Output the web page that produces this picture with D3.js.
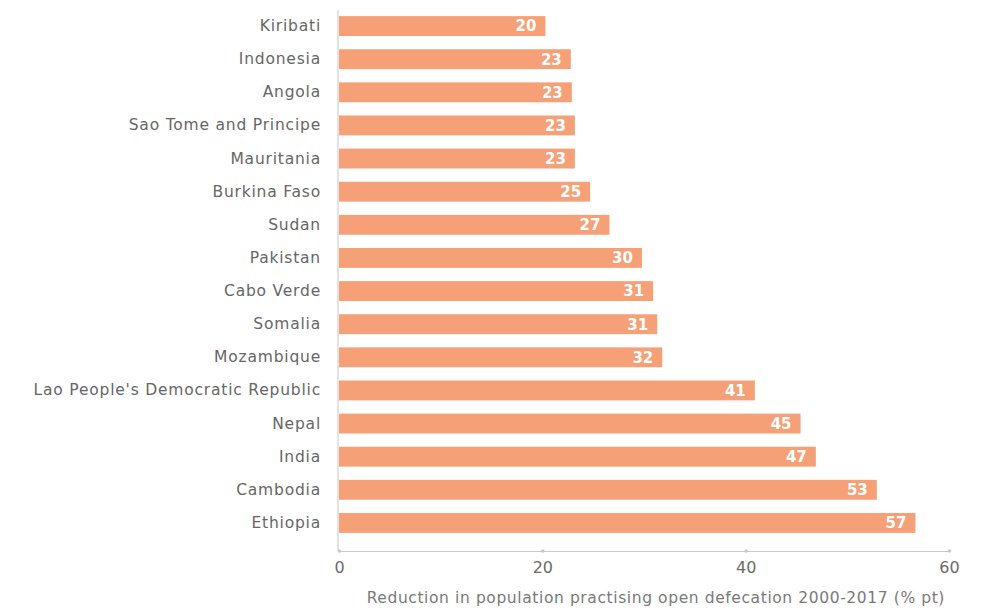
<!DOCTYPE html>
<html>
<head>
<meta charset="utf-8">
<script src="https://cdn.jsdelivr.net/npm/d3@7"></script>
<style>
  body { margin: 0; background: #fff; }
  text { font-family: "DejaVu Sans", sans-serif; }
</style>
</head>
<body>
<div id="chart"></div>
<script>
// data
var countries = ["Kiribati", "Indonesia", "Angola", "Sao Tome and Principe", "Mauritania",
    "Burkina Faso", "Sudan", "Pakistan", "Cabo Verde", "Somalia", "Mozambique",
    "Lao People's Democratic Republic", "Nepal", "India", "Cambodia", "Ethiopia"];
var values = [20.3, 22.8, 22.9, 23.2, 23.2, 24.7, 26.6, 29.8, 30.9, 31.3, 31.8,
    40.9, 45.4, 46.9, 52.9, 56.7];
var xTicks = [0, 20, 40, 60];
var xTitle = "Reduction in population practising open defecation 2000-2017 (% pt)";

var width = 1003, height = 608;
var margin = { top: 10, right: 54, bottom: 57, left: 339 };

var svg = d3.select("#chart").append("svg")
    .attr("width", width)
    .attr("height", height);

var xScale = d3.scaleLinear()
    .domain([0, 60])
    .range([margin.left, width - margin.right]);

var yScale = d3.scaleBand()
    .domain(countries)
    .range([9.5, 539.5])
    .paddingInner(0.4)
    .paddingOuter(0.2);

var data = countries.map(function (c, i) { return { country: c, value: values[i] }; });

// bars
svg.append("g")
    .selectAll("rect")
    .data(data)
    .join("rect")
    .attr("x", xScale(0))
    .attr("y", d => yScale(d.country))
    .attr("width", d => xScale(d.value) - xScale(0))
    .attr("height", yScale.bandwidth())
    .attr("fill", "#f6a077");

// value labels inside bars
svg.append("g")
    .selectAll("text")
    .data(data)
    .join("text")
    .attr("x", d => xScale(d.value) - 9)
    .attr("y", d => yScale(d.country) + yScale.bandwidth() / 2)
    .attr("dy", "0.36em")
    .attr("text-anchor", "end")
    .attr("fill", "#fff")
    .style("font-size", "15px")
    .style("font-weight", "bold")
    .text(d => Math.round(d.value));

// category axis
var yAxis = d3.axisLeft(yScale).tickSize(0).tickPadding(17);
var gy = svg.append("g")
    .attr("transform", "translate(" + (xScale(0) - 1) + ",0)")
    .call(yAxis);
gy.select(".domain").attr("stroke", "#c8c8c8").attr("d", "M0," + margin.top + "V" + (height - margin.bottom));
gy.selectAll("text")
    .attr("fill", "#666")
    .style("font-size", "15.5px")
    .style("letter-spacing", "0.8px")
    .style("font-family", "'DejaVu Sans', sans-serif");

// value axis
var xAxis = d3.axisBottom(xScale).tickValues(xTicks).tickSize(0).tickPadding(11);
var gx = svg.append("g")
    .attr("transform", "translate(0," + (height - margin.bottom) + ")")
    .call(xAxis);
gx.select(".domain").attr("stroke", "#c8c8c8");
gx.selectAll(".tick").append("circle").attr("r", 1.8).attr("fill", "#c8c8c8");
gx.selectAll("text")
    .attr("fill", "#6b6b6b")
    .style("font-size", "16px")
    .style("font-family", "'DejaVu Sans', sans-serif");

svg.append("text")
    .attr("x", xScale(60) - 4)
    .attr("y", 603)
    .attr("text-anchor", "end")
    .attr("fill", "#7a7a7a")
    .style("font-size", "15.5px")
    .style("letter-spacing", "0.6px")
    .text(xTitle);
</script>
</body>
</html>
